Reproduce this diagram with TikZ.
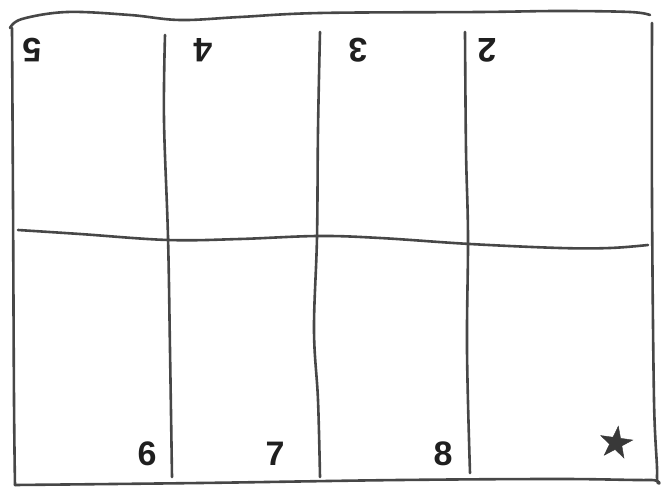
\documentclass[tikz,border=0pt]{standalone}
\usepackage{fontspec}
\setmainfont{Liberation Sans}
\usetikzlibrary{shapes.geometric}
\begin{document}
\begin{tikzpicture}[x=1pt,y=-1pt,
  pen/.style={draw=black!72,line width=2.6pt,line cap=round,line join=round},
  numlbl/.style={font=\fontsize{34}{34}\selectfont\bfseries,text=black!88,inner sep=0pt},
  upside/.style={numlbl,rotate=180}]
\useasboundingbox (0,0) rectangle (662,489);
% outer frame
\draw[pen] plot[smooth,tension=0.6] coordinates {(10,28) (22,19) (67,12) (130,15) (180,20) (240,17) (320,13) (480,12) (560,11) (630,12) (650,15)};
\draw[pen] plot[smooth,tension=0.6] coordinates {(652,23) (652,200) (654,400) (657,477) (650,480) (560,479) (400,480) (200,483) (15,485)};
\draw[pen] plot[smooth,tension=0.6] coordinates {(15,485) (14,400) (13,200) (12,28)};
% vertical dividers
\draw[pen] plot[smooth,tension=0.6] coordinates {(165,35) (164,120) (168,237) (170,350) (172,477)};
\draw[pen] plot[smooth,tension=0.6] coordinates {(320,32) (318,130) (317,237) (314,330) (318,400) (320,477)};
\draw[pen] plot[smooth,tension=0.6] coordinates {(465,32) (466,150) (468,237) (467,350) (470,473)};
% horizontal divider
\draw[pen] plot[smooth,tension=0.6] coordinates {(18,230) (80,234) (168,240) (240,239) (318,236) (380,238) (470,244) (560,248) (610,248) (648,245)};
% labels
\node[upside] (n5) at (32,50) {5};
\node[upside] (n4) at (203,50) {4};
\node[upside] (n3) at (358,50) {3};
\node[upside] (n2) at (487,50) {2};
\node[numlbl] (n6) at (147,454) {6};
\node[numlbl] (n7) at (275,454) {7};
\node[numlbl] (n8) at (443,454) {8};
\node[star,star points=5,star point ratio=2.6,fill=black!78,draw=black!78,minimum size=34pt,inner sep=0pt,rotate=-8] (st) at (616,443) {};
\end{tikzpicture}
\end{document}
